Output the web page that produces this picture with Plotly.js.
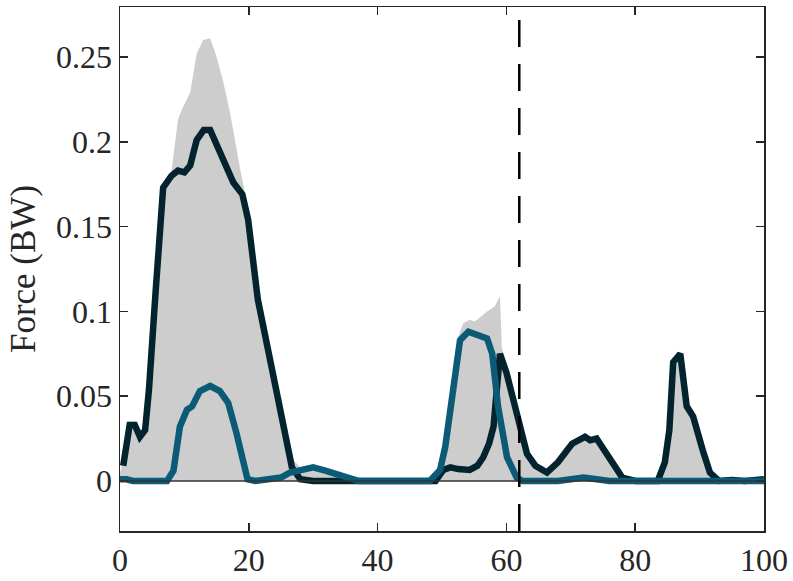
<!DOCTYPE html>
<html>
<head>
<meta charset="utf-8">
<script src="https://cdn.plot.ly/plotly-3.0.1.min.js"></script>
<style>html,body{margin:0;padding:0;background:#fff;}#chart{width:793px;height:581px;}</style>
</head>
<body>
<div id="chart"></div>
<script>
// Grey envelope (upper bound)
const envX = [0,0.5,1.5,2.5,3.2,4,4.5,5.5,6.5,8,9,9.6,10.9,11.9,12.9,14,15,16,17.1,18.6,20,21.5,23,24.8,26,27,28,30,32,34,36,37,48,49.5,50.2,51,51.8,52.5,53.3,54.3,55.1,56,57,58.2,59,59.3,60,61,62,63.2,64.5,66.3,68,70.2,72.2,74,75.3,76.6,78,80,84,84.6,85.9,87,88,89,90.5,91.6,93,100];
const envY = [0.005,0.012,0.035,0.035,0.029,0.033,0.058,0.115,0.17,0.183,0.213,0.219,0.229,0.252,0.26,0.261,0.25,0.236,0.217,0.185,0.158,0.113,0.086,0.046,0.025,0.012,0.008,0.008,0.006,0.004,0.001,0,0,0.004,0.008,0.035,0.07,0.085,0.093,0.095,0.094,0.097,0.1,0.103,0.109,0.079,0.066,0.05,0.036,0.018,0.01,0.006,0.012,0.023,0.027,0.026,0.019,0.012,0.003,0.001,0.001,0.012,0.071,0.076,0.045,0.039,0.019,0.006,0.001,0.001];

// Dark series
const darkX = [0.5,1.5,2.3,3.1,3.9,4.5,5.5,6.7,8,9,10,10.9,11.9,13,14,15,16.3,17.6,19,19.9,21.4,22.8,24,24.8,25.8,26.7,28,30,49,50.2,51.3,52.5,54.3,55.5,56.4,57.3,58,58.6,59,60,61,62,63.2,64.5,66.3,68,70.2,72.2,73,74,75.3,76.6,78,80,82,83.5,84.6,85.3,85.9,87,88,89,90.5,91.6,93,95,97,99,100];
const darkY = [0.009,0.033,0.033,0.026,0.03,0.054,0.11,0.173,0.18,0.183,0.182,0.186,0.201,0.207,0.207,0.198,0.187,0.176,0.169,0.154,0.107,0.081,0.057,0.04,0.022,0.008,0.001,0,0,0.0065,0.008,0.007,0.0065,0.009,0.014,0.022,0.032,0.065,0.075,0.064,0.048,0.034,0.016,0.009,0.005,0.011,0.022,0.026,0.024,0.025,0.018,0.011,0.002,0,0.0005,0,0.011,0.03,0.07,0.075,0.044,0.038,0.018,0.005,0,0.0005,0,0.0005,0.001];

// Teal series
const tealX = [0,1,2,4,7.3,8.3,9.3,10.4,11.2,12.4,14,15.5,16.8,18.1,19.2,19.8,21,23.8,25,26.4,28,30,32,34.2,35.7,37,48.1,49.7,50.5,51.2,51.8,52.8,54.1,55.5,57,57.8,58.7,60.1,61.6,62.5,68,70,72,74,76,100];
const tealY = [0.001,0.001,0,0,0,0.006,0.032,0.042,0.044,0.053,0.056,0.053,0.046,0.028,0.008,0.001,0,0.001,0.002,0.005,0.0065,0.008,0.006,0.0035,0.001,0,0,0.0065,0.02,0.04,0.06,0.083,0.088,0.086,0.084,0.075,0.044,0.014,0.002,0,0,0.001,0.002,0.001,0,0];

const eventX = 62;
const xTicks = [0,20,40,60,80,100];
const yTicks = [0,0.05,0.1,0.15,0.2,0.25];
const yLabel = 'Force (BW)';

const fam = '"Liberation Serif", "Times New Roman", serif';
const tickFont = {family: fam, color: '#262626', size: 32};
const labelFont = {family: fam, color: '#262626', size: 35};

const traces = [
  {x: envX, y: envY, type: 'scatter', mode: 'lines', fill: 'tozeroy',
   fillcolor: '#cdcdcd', line: {width: 0, color: '#cdcdcd'}, hoverinfo: 'skip'},
  {x: darkX, y: darkY, type: 'scatter', mode: 'lines',
   line: {color: '#03232f', width: 6.5}},
  {x: tealX, y: tealY, type: 'scatter', mode: 'lines',
   line: {color: '#0b5a76', width: 6.5}}
];

const axBase = {
  showline: true, mirror: 'ticks', linecolor: '#262626', linewidth: 1.5,
  ticks: 'inside', ticklen: 8, tickwidth: 1.5, tickcolor: '#262626',
  showgrid: false, zeroline: false, tickfont: tickFont
};

const layout = {
  width: 793, height: 581,
  margin: {l: 120, r: 29, t: 7, b: 50},
  paper_bgcolor: '#fff', plot_bgcolor: '#fff',
  showlegend: false,
  font: tickFont,
  xaxis: Object.assign({}, axBase, {range: [0, 100], tickvals: xTicks, ticktext: xTicks.map(String)}),
  yaxis: Object.assign({}, axBase, {range: [-0.0295, 0.2795], tickvals: yTicks, ticktext: yTicks.map(String),
    title: {text: yLabel, font: labelFont, standoff: 10}}),
  shapes: [
    {type: 'line', xref: 'paper', yref: 'y', x0: 0, x1: 1, y0: 0, y1: 0,
     line: {color: '#333333', width: 1.5}, layer: 'above'},
    {type: 'line', xref: 'x', yref: 'paper', x0: eventX, x1: eventX, y0: 0, y1: 1,
     line: {color: '#000000', width: 2.5, dash: '27px,17px'}, layer: 'above'}
  ]
};

Plotly.newPlot('chart', traces, layout, {staticPlot: true, displayModeBar: false});
</script>
</body>
</html>
